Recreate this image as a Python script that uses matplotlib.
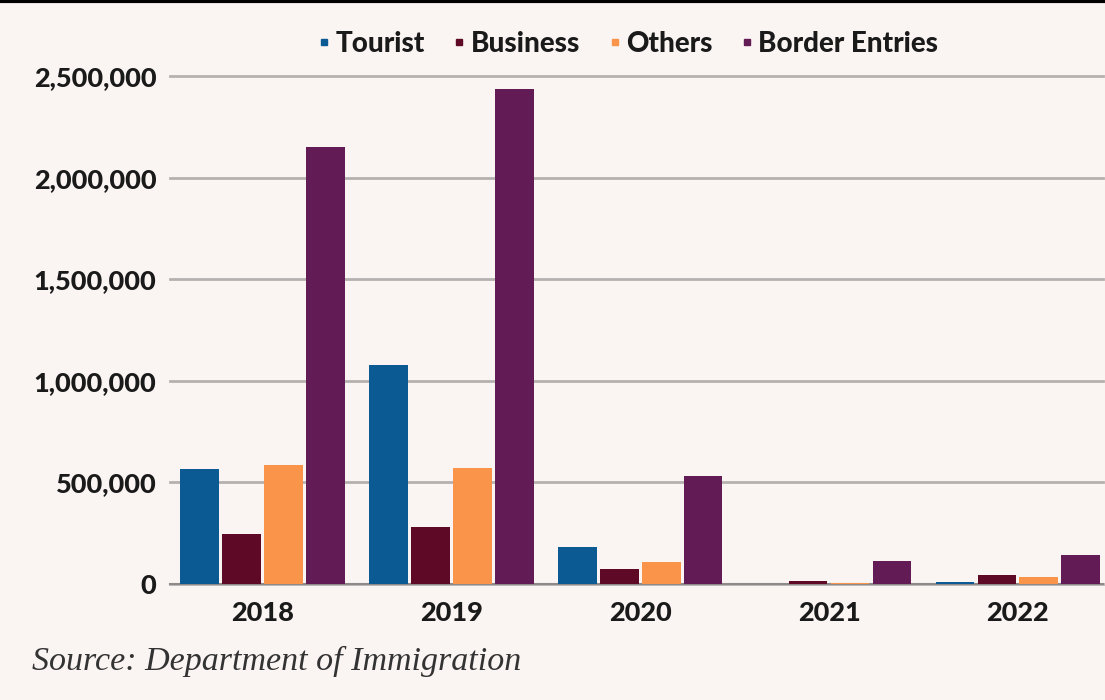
import matplotlib
matplotlib.use("Agg")
import matplotlib.pyplot as plt
import numpy as np
from matplotlib.ticker import FuncFormatter
from matplotlib.lines import Line2D

years = ["2018", "2019", "2020", "2021", "2022"]
series = ["Tourist", "Business", "Others", "Border Entries"]
tourist = [566000, 1078000, 182000, 1000, 10000]
business = [246000, 280000, 74000, 15000, 44000]
others = [586000, 571000, 108000, 5000, 34000]
border = [2150000, 2436000, 531000, 113000, 143000]
colors = ["#0b5a93", "#5e0a26", "#f9944a", "#621b54"]

bg = "#faf4f2"
fig = plt.figure(figsize=(11.05, 7), dpi=100, facecolor=bg)
ax = fig.add_axes([0.154, 0.1657, 0.844, 0.7257])
ax.set_facecolor(bg)

x = np.arange(len(years))
step = 0.222
w = 0.205
for i, (vals, name) in enumerate(zip([tourist, business, others, border], series)):
    ax.bar(x + (i - 1.5) * step, vals, width=w, color=colors[i], label=name, zorder=3)

ax.set_ylim(0, 2500000)
ax.set_xlim(-0.49, 4.45)
ax.set_yticks(np.arange(0, 2500001, 500000))
ax.yaxis.set_major_formatter(FuncFormatter(lambda v, p: f"{int(v):,}"))
ax.grid(axis="y", color="#b5b1b0", linewidth=2, zorder=0)
for ln in ax.get_ygridlines():
    ln.set_clip_on(False)
ax.set_xticks(x)
ax.set_xticklabels(years)
for s in ["top", "right", "left"]:
    ax.spines[s].set_visible(False)
ax.spines["bottom"].set_color("#8c8a8a")
ax.spines["bottom"].set_linewidth(1.5)
ax.tick_params(length=0)
ax.tick_params(axis="y", pad=10)
ax.tick_params(axis="x", pad=12)
for lab in ax.get_xticklabels() + ax.get_yticklabels():
    lab.set_fontfamily("Lato")
    lab.set_fontweight("black")
    lab.set_fontsize(19.5)
    lab.set_color("#1a1a1a")

handles = [Line2D([], [], marker="s", linestyle="none", markersize=4.5, color=c) for c in colors]
leg = fig.legend(handles, series, loc="center", bbox_to_anchor=(0.568, 0.937), ncol=4,
                 frameon=False, handlelength=0.5, handletextpad=0.15, columnspacing=1.0,
                 prop={"family": "Lato", "weight": "black", "size": 20})
for t in leg.get_texts():
    t.set_color("#1a1a1a")

fig.text(0.029, 0.043, "Source: Department of Immigration", fontsize=24.5,
         family="Liberation Serif", style="italic", color="#333333")
fig.add_artist(Line2D([0, 1], [0.998, 0.998], color="black", linewidth=3,
                      transform=fig.transFigure))

fig.savefig("out.png", dpi=100, facecolor=bg)
